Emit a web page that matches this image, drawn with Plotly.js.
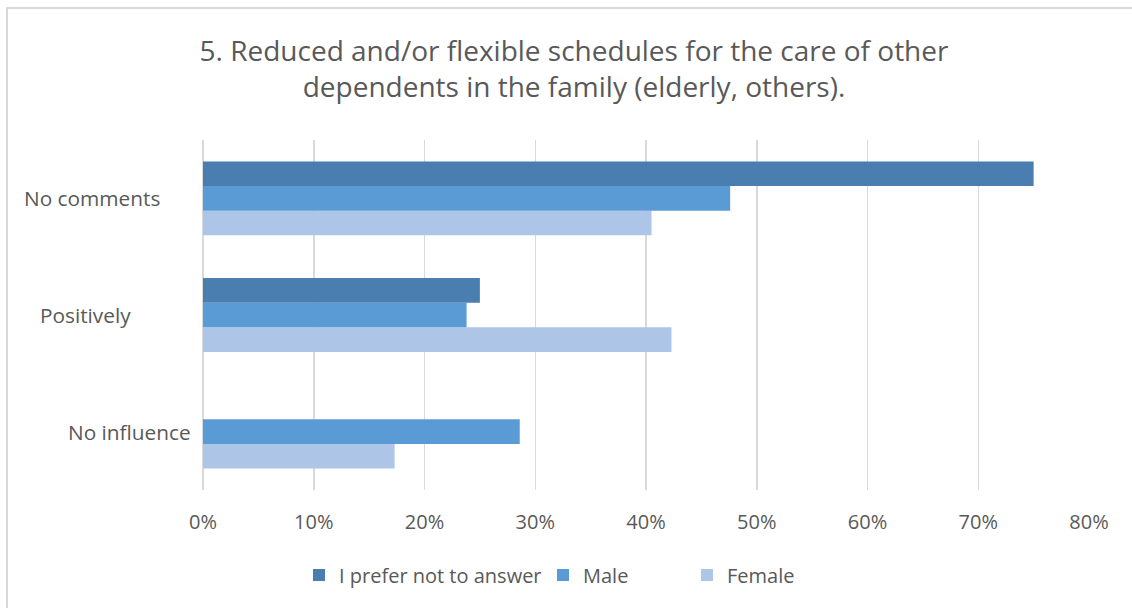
<!DOCTYPE html>
<html>
<head>
<meta charset="utf-8">
<script src="https://cdn.plot.ly/plotly-3.0.1.min.js"></script>
<style>
  html, body { margin: 0; padding: 0; background: #ffffff; overflow: hidden; }
  #chart { width: 1132px; height: 608px; }
  #frame { position: absolute; left: 6px; top: 7px; width: 1200px; height: 700px;
           border: 2px solid #d9d9d9; pointer-events: none; box-sizing: border-box; }
</style>
</head>
<body>
<div id="chart"></div>
<div id="frame"></div>
<script>
// Data (categories listed bottom-to-top as drawn on the axis)
const categories = ["No influence", "Positively", "No comments"];
const seriesNames = ["I prefer not to answer", "Male", "Female"];
const preferNotValues = [0, 0.25, 0.75];
const maleValues = [0.286, 0.238, 0.476];
const femaleValues = [0.173, 0.423, 0.405];
const xTickValues = [0, 0.1, 0.2, 0.3, 0.4, 0.5, 0.6, 0.7, 0.8];
const xTickLabels = ["0%", "10%", "20%", "30%", "40%", "50%", "60%", "70%", "80%"];
const titleLines = ["5. Reduced and/or flexible schedules for the care of other",
                    "dependents in the family (elderly, others)."];

const colors = { prefer: "#4a7eb0", male: "#5b9bd5", female: "#adc5e7" };
const textColor = "#595959";
const fontFamily = "'Open Sans', 'Noto Sans', sans-serif";

// Plot area in pixels
const plotL = 203, plotR = 1089, plotT = 140, plotB = 490;
const W = 1132, H = 608;
const pw = plotR - plotL, ph = plotB - plotT;
const px2paperX = p => (p - plotL) / pw;
const px2paperY = p => (plotB - p) / ph;

// Traces: first trace is drawn lowest within each group
const traces = [
  { type: "bar", orientation: "h", name: seriesNames[2], y: categories, x: femaleValues,
    marker: { color: colors.female }, legend: "legend3", hoverinfo: "x+name" },
  { type: "bar", orientation: "h", name: seriesNames[1], y: categories, x: maleValues,
    marker: { color: colors.male }, legend: "legend2", hoverinfo: "x+name" },
  { type: "bar", orientation: "h", name: seriesNames[0], y: categories, x: preferNotValues,
    marker: { color: colors.prefer }, legend: "legend", hoverinfo: "x+name" }
];

const labelLeftPx = { "No comments": 24, "Positively": 40, "No influence": 68 };
const annotations = categories.map(c => ({
  text: c, xref: "paper", yref: "y", x: px2paperX(labelLeftPx[c] - 2), y: c,
  xanchor: "left", yanchor: "middle", showarrow: false,
  font: { family: fontFamily, size: 20.8, color: textColor }
}));

const legendBase = (xpx) => ({
  orientation: "h", x: px2paperX(xpx), xanchor: "left",
  y: px2paperY(575), yanchor: "middle",
  font: { family: fontFamily, size: 20, color: textColor },
  bgcolor: "rgba(0,0,0,0)"
});

const layout = {
  width: W, height: H,
  paper_bgcolor: "#ffffff", plot_bgcolor: "#ffffff",
  margin: { l: plotL, r: W - plotR, t: plotT, b: H - plotB, pad: 0 },
  barmode: "group", bargap: 0.367, bargroupgap: 0,
  title: {
    text: titleLines.join("<br>"),
    x: 574 / W, xref: "container", xanchor: "center",
    y: 1 - 61 / H, yref: "container", yanchor: "middle",
    font: { family: fontFamily, size: 28, color: textColor }
  },
  xaxis: {
    range: [0, 0.8], tickvals: xTickValues, ticktext: xTickLabels,
    showgrid: true, gridcolor: "#d9d9d9", gridwidth: 1.5,
    zeroline: true, zerolinecolor: "#d9d9d9", zerolinewidth: 1.5,
    showline: false, ticks: "", ticklabelstandoff: 18,
    tickfont: { family: fontFamily, size: 20, color: textColor },
    fixedrange: true
  },
  yaxis: {
    type: "category", categoryorder: "array", categoryarray: categories,
    showticklabels: false, showgrid: false, zeroline: false, showline: false, ticks: "",
    fixedrange: true
  },
  annotations: annotations,
  showlegend: true,
  legend: legendBase(299),
  legend2: legendBase(543),
  legend3: legendBase(687)
};

Plotly.newPlot("chart", traces, layout, { displayModeBar: false, staticPlot: true });
</script>
</body>
</html>
